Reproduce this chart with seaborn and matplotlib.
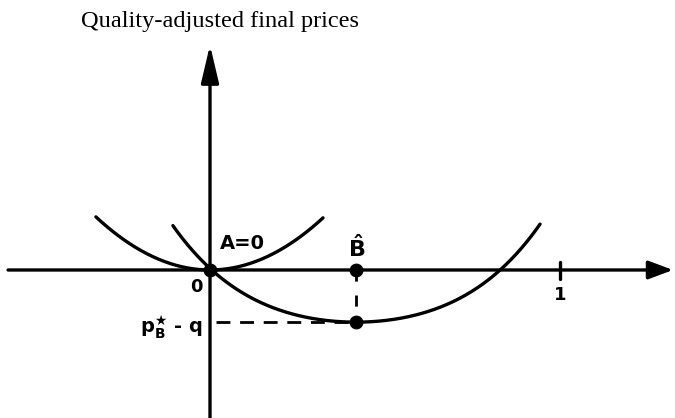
import numpy as np
import pandas as pd
import matplotlib
matplotlib.use("Agg")
import matplotlib.pyplot as plt
import seaborn as sns

# ---- values (x: 0..1 scale, y in same units) ----
title_text = "Quality-adjusted final prices"
tick_labels = ["0", "1"]
tick_positions = [0.0, 1.0]

# small parabola (firm A at 0): vertex and end points
small_vertex = [0.0, 0.0]
small_ends_x = [-0.326, 0.323]
small_end_y = 0.149

# large curve (firm B-hat): vertex, crossing points and end points
big_vertex = [0.417, -0.149]
big_roots_x = [0.0, 0.829]
big_ends_x = [-0.106, 0.943]
big_end_y = 0.131

point_x = [0.0, 0.417, 0.417]
point_y = [0.0, 0.0, -0.149]
point_names = ["A", "B_hat", "B_min"]

sns.set_style("white")
plt.rcParams["mathtext.fontset"] = "dejavusans"
plt.rcParams["text.color"] = "black"

fig = plt.figure(figsize=(6.75, 4.18), dpi=100)
ax = fig.add_axes([0, 0, 1, 1])
ax.set_xlim(-0.6, 1.3286)
ax.set_ylim(-0.4229, 0.7714)
ax.axis("off")

LW = 2.4

# small parabola through vertex and end points
xs = np.linspace(small_ends_x[0], small_ends_x[1], 200)
k_small = small_end_y / (small_ends_x[1] - small_vertex[0]) ** 2
ys = small_vertex[1] + k_small * (xs - small_vertex[0]) ** 2
sns.lineplot(x=xs, y=ys, ax=ax, color="black", lw=LW, sort=False)

# big curve: y = v + a u^2 + b u^4 fitted to vertex, root and end point
xv, yv = big_vertex
u_root = big_roots_x[1] - xv
u_end = big_ends_x[1] - xv
A = np.array([[u_root ** 2, u_root ** 4], [u_end ** 2, u_end ** 4]])
rhs = np.array([0 - yv, big_end_y - yv])
a, b = np.linalg.solve(A, rhs)
xb = np.linspace(big_ends_x[0], big_ends_x[1], 300)
ub = xb - xv
yb = yv + a * ub ** 2 + b * ub ** 4
sns.lineplot(x=xb, y=yb, ax=ax, color="black", lw=LW, sort=False)

# axes with arrows
ax.annotate("", xy=(1.323, 0), xytext=(-0.577, 0),
            arrowprops=dict(arrowstyle="-|>,head_length=0.75,head_width=0.28",
                            mutation_scale=20, lw=LW, color="black",
                            shrinkA=0, shrinkB=0))
ax.annotate("", xy=(0, 0.643), xytext=(0, -0.43),
            arrowprops=dict(arrowstyle="-|>,head_length=1.15,head_width=0.27",
                            mutation_scale=20, lw=LW, color="black",
                            shrinkA=0, shrinkB=0))

# tick at 1
ax.plot([tick_positions[1]] * 2, [0.023, -0.026], color="black", lw=LW)

# dashed guides
ax.plot([0.017, big_vertex[0]], [big_vertex[1]] * 2, color="black", lw=2.0,
        dashes=(5, 3.5))
ax.plot([big_vertex[0]] * 2, [0.0, big_vertex[1]], color="black", lw=2.0,
        dashes=(4, 5))

# points
df = pd.DataFrame({"x": point_x, "y": point_y, "name": point_names})
sns.scatterplot(data=df, x="x", y="y", ax=ax, color="black", s=85,
                edgecolor="black", zorder=5, legend=False)

# texts
fig.text(81 / 675, 1 - 21 / 418, title_text, fontsize=17.6,
         family="Liberation Serif", ha="left", va="center", color="black")
ax.text(-0.04, -0.05, tick_labels[0], fontsize=13, fontweight="bold",
        ha="center", va="center", color="black")
ax.text(1.0, -0.072, tick_labels[1], fontsize=13, fontweight="bold",
        ha="center", va="center", color="black")
ax.text(0.028, 0.077, "A=0", fontsize=14, fontweight="bold",
        ha="left", va="center", color="black")
ax.text(0.42, 0.065, r"$\mathbf{\hat{B}}$", fontsize=16,
        ha="center", va="center", color="black")
ax.text(-0.02, -0.163, r"$\mathbf{p}_{\mathbf{B}}^{\bigstar}$ - q",
        fontsize=14, fontweight="bold", ha="right", va="center",
        color="black")

fig.savefig("out.png", dpi=100)
